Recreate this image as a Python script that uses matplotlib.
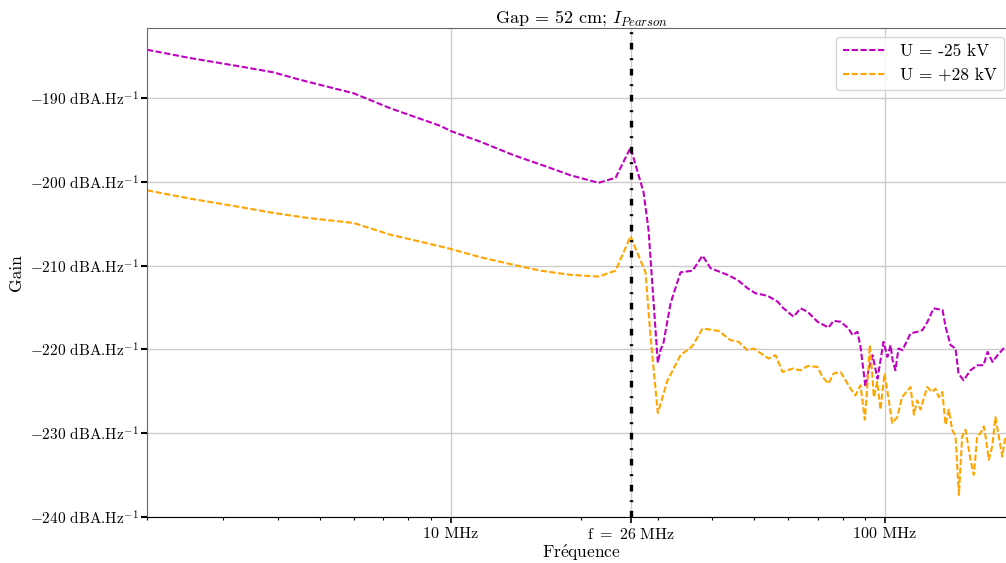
import numpy as np
import matplotlib
matplotlib.use('Agg')
import matplotlib.pyplot as plt
from matplotlib.ticker import NullFormatter, LogLocator

plt.rcParams['mathtext.fontset'] = 'cm'
plt.rcParams['font.family'] = ['cmr10', 'DejaVu Serif']
plt.rcParams['axes.formatter.use_mathtext'] = True

# frequencies in MHz, gain in dB
f_neg = [2.00, 2.52, 3.28, 3.91, 4.51, 5.98, 7.27, 9.48, 10.0, 11.73, 13.97, 16.70, 18.89,
         21.92, 23.99, 25.97, 27.82, 28.57, 30.01, 30.44, 30.93, 32.11, 33.85, 36.08, 38.04,
         39.69, 43.43, 45.79, 48.30, 50.39, 53.70, 56.62, 58.45, 61.64, 63.97, 66.37, 69.98,
         74.19, 76.18, 79.07, 82.5, 84.25, 86.5, 87.9, 90.27, 91.72, 93.7, 96.2, 99.3, 101.4,
         103.1, 104.2, 105.8, 107.5, 109.8, 114.6, 118.9, 122.1, 125.4, 129.5, 135.8, 138.0,
         141.7, 145.5, 147.8, 151.8, 157.5, 163.5, 168.8, 172.4, 177.0, 181.8, 187.7, 194.8]
g_neg = [-184.2, -185.2, -186.2, -186.9, -187.8, -189.4, -191.2, -193.3, -193.9, -195.2,
         -196.8, -198.2, -199.2, -200.1, -199.5, -195.9, -201.2, -205.7, -221.6, -220.1,
         -219.2, -214.5, -210.8, -210.6, -208.8, -210.3, -211.1, -211.7, -212.7, -213.3,
         -213.6, -214.3, -215.1, -216.1, -215.1, -215.5, -216.7, -217.4, -216.6, -216.7,
         -217.5, -218.3, -217.9, -219.7, -224.5, -222.5, -220.7, -223.5, -219.1, -220.9,
         -219.5, -221.3, -222.5, -219.9, -220.1, -218.1, -217.9, -217.7, -216.7, -215.1,
         -215.3, -217.3, -219.5, -219.9, -222.9, -223.7, -222.5, -221.9, -221.9, -220.3,
         -221.5, -220.7, -219.9, -219.4]

f_pos = [2.00, 2.52, 3.28, 3.91, 4.69, 5.98, 7.27, 9.48, 10.0, 11.73, 13.97, 16.11, 18.89,
         21.92, 23.99, 25.97, 28.12, 28.88, 30.01, 31.6, 33.85, 36.08, 38.04, 41.40, 44.13,
         46.04, 48.30, 49.86, 53.99, 56.02, 58.14, 61.31, 63.97, 66.37, 69.98, 71.87, 74.19,
         76.18, 79.07, 83.37, 85.6, 87.9, 89.95, 91.1, 92.35, 93.54, 94.34, 96.05, 97.75,
         99.84, 101.3, 104.0, 106.8, 109.6, 114.6, 116.7, 118.7, 120.8, 125.2, 128.6, 130.8,
         133.1, 135.6, 138.0, 140.4, 142.9, 145.5, 148.1, 150.7, 153.4, 157.5, 160.3, 163.2,
         166.1, 169.0, 170.6, 173.6, 176.7, 179.8, 183.0, 186.4, 189.6, 194.8]
g_pos = [-201.0, -202.0, -203.0, -203.7, -204.3, -204.9, -206.3, -207.7, -208.0, -209.0,
         -209.9, -210.6, -211.1, -211.3, -210.6, -206.5, -210.8, -218.5, -227.6, -223.7,
         -220.7, -219.6, -217.5, -217.8, -218.9, -219.1, -220.1, -219.9, -221.1, -220.7,
         -222.7, -222.3, -222.5, -222.0, -222.1, -223.3, -224.1, -222.9, -222.7, -224.7,
         -225.5, -224.3, -228.4, -224.5, -219.5, -222.9, -225.7, -223.9, -227.2, -222.9,
         -224.9, -228.8, -228.1, -225.7, -224.5, -227.8, -226.1, -227.2, -224.5, -225.1,
         -224.7, -225.7, -225.1, -229.0, -227.2, -229.6, -230.4, -237.4, -230.4, -229.6,
         -233.2, -235.0, -230.4, -230.0, -229.2, -230.4, -233.2, -231.6, -228.1, -230.4,
         -232.8, -230.4, -230.8]

f_res = 26
yticks = [-240, -230, -220, -210, -200, -190]
xticks = [10, 26, 100]
xticklabels = ['10 MHz', r'$\mathrm{f}\ =\ 26\ \mathrm{MHz}$', '100 MHz']

fig = plt.figure(figsize=(10.06, 5.63), dpi=100)
ax = fig.add_axes([0.1461, 0.0822, 0.8634, 0.8681])

ax.plot(f_neg, g_neg, color='#c000c0', lw=1.5, dashes=(3, 1.2), label='U = -25 kV')
ax.plot(f_pos, g_pos, color='#ffa500', lw=1.5, dashes=(3, 1.2), label='U = +28 kV')
ax.axvline(f_res, color='k', lw=2.4, dashes=(2, 2.6, 0.6, 2.6))

ax.set_xscale('log')
ax.set_xlim(2, 200)
ax.set_ylim(-240, -181.6)
ax.set_xticks(xticks)
ax.set_xticklabels(xticklabels, fontsize=11.5)
ax.xaxis.set_minor_locator(LogLocator(base=10, subs=np.arange(2, 10)))
ax.xaxis.set_minor_formatter(NullFormatter())
ax.set_yticks(yticks)
ax.set_yticklabels([r'$-%d$ dBA.Hz$^{-1}$' % abs(v) for v in yticks], fontsize=11)
ax.tick_params(axis='y', length=4, width=1.5, pad=2)
ax.tick_params(axis='x', which='major', length=4, width=1.2)
ax.tick_params(axis='x', which='minor', length=2.5, width=0.8)

ax.grid(True, which='major', color='#cccccc', lw=1)
for s in ['left', 'top', 'right']:
    ax.spines[s].set_color('#666666')
ax.spines['bottom'].set_color('k')

ax.set_title(r'Gap = 52 cm; $I_{Pearson}$', fontsize=13, pad=4)
ax.set_xlabel(r'Fr$\acute{\rm e}$quence', fontsize=12.5, labelpad=0)
ax.set_ylabel('Gain', fontsize=12.5, labelpad=4)

ax.legend(loc='upper right', bbox_to_anchor=(0.998, 0.935), bbox_transform=fig.transFigure,
          borderaxespad=0, fontsize=12.5, handlelength=2.5)

fig.savefig('out.png', dpi=100)
